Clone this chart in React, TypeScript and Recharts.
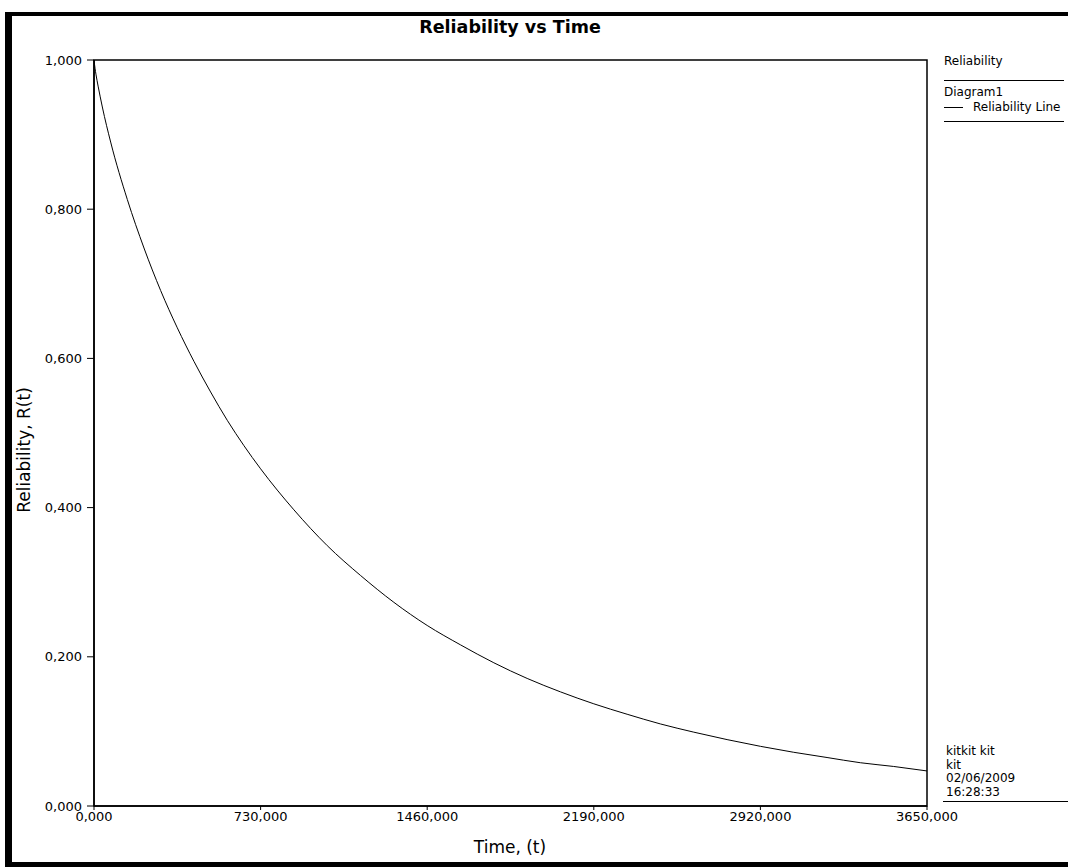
import React from "react";
import {
  LineChart,
  Line,
  XAxis,
  YAxis,
  ReferenceArea,
  Legend,
} from "recharts";

// values (time in days, reliability 0..1)
const times = [
  0, 4.5, 9, 18, 36.5, 73, 146, 219, 292, 365, 438, 511, 584, 657, 730, 876,
  1022, 1168, 1314, 1460, 1606, 1752, 1898, 2044, 2190, 2336, 2482, 2628,
  2774, 2920, 3066, 3212, 3358, 3504, 3650,
];
const reliability = [
  1.0, 0.989, 0.98, 0.965, 0.937, 0.89, 0.813, 0.748, 0.691, 0.641, 0.596,
  0.555, 0.517, 0.483, 0.452, 0.397, 0.349, 0.309, 0.273, 0.242, 0.216, 0.192,
  0.171, 0.153, 0.137, 0.123, 0.11, 0.099, 0.089, 0.08, 0.072, 0.065, 0.058,
  0.053, 0.047,
];
const xTicks = [0, 730, 1460, 2190, 2920, 3650];
const yTicks = [0, 0.2, 0.4, 0.6, 0.8, 1.0];
const footLines = ["kitkit kit", "kit", "02/06/2009", "16:28:33"];

const data = times.map((t, i) => ({ t, r: reliability[i] }));
const fmt = (v: number) => v.toFixed(3).replace(".", ",");

const FONT = "'DejaVu Sans', Verdana, sans-serif";

function LegendBox(props: any) {
  const item = props.payload && props.payload[0];
  return (
    <div style={{ position: "relative", width: 125, height: 80, font: `12px ${FONT}`, color: "#000" }}>
      <div style={{ position: "absolute", left: 0, top: 4, lineHeight: "14px" }}>Reliability</div>
      <div style={{ position: "absolute", left: 0, top: 30, width: 120, borderTop: "1.5px solid #000" }} />
      <div style={{ position: "absolute", left: 0, top: 35, lineHeight: "14px" }}>Diagram1</div>
      <div style={{ position: "absolute", left: 0, top: 50, lineHeight: "14px", whiteSpace: "nowrap" }}>
        <span style={{ display: "inline-block", width: 19, borderTop: `1px solid ${item ? item.color : "#000"}`, verticalAlign: "middle", marginRight: 10 }} />
        {item ? item.value : ""}
      </div>
      <div style={{ position: "absolute", left: 0, top: 71, width: 120, borderTop: "1.5px solid #000" }} />
    </div>
  );
}

export default function App() {
  return (
    <div style={{ position: "absolute", left: 0, top: 0, width: 1068, height: 868, background: "#fff", overflow: "hidden" }}>
      {/* scanned page frame */}
      <div
        style={{
          position: "absolute",
          left: 5,
          top: 12,
          width: 1070,
          height: 855,
          boxSizing: "border-box",
          borderLeft: "7px solid #000",
          borderTop: "4px solid #000",
          borderBottom: "5px solid #000",
        }}
      />
      <div style={{ position: "absolute", left: 0, top: 0 }}>
        <LineChart width={1068} height={868} data={data} margin={{ top: 60, right: 16, bottom: 32, left: 34 }}>
          <ReferenceArea x1={0} x2={3650} y1={0} y2={1} fill="none" stroke="#000" strokeWidth={1.5} ifOverflow="visible" />
          <XAxis
            dataKey="t"
            type="number"
            domain={[0, 3650]}
            ticks={xTicks}
            tickFormatter={fmt}
            height={30}
            tickSize={4}
            tickMargin={2}
            axisLine={{ stroke: "#000", strokeWidth: 1.5 }}
            tickLine={{ stroke: "#000" }}
            tick={{ fill: "#000", fontSize: 13, fontFamily: FONT }}
          />
          <YAxis
            type="number"
            domain={[0, 1]}
            ticks={yTicks}
            tickFormatter={fmt}
            width={60}
            tickSize={7}
            tickMargin={5}
            axisLine={{ stroke: "#000", strokeWidth: 1.5 }}
            tickLine={{ stroke: "#000" }}
            tick={{ fill: "#000", fontSize: 13, fontFamily: FONT }}
          />
          <Legend
            layout="vertical"
            align="right"
            verticalAlign="top"
            content={<LegendBox />}
            wrapperStyle={{ left: 944, top: 50, right: "auto", width: 125 }}
          />
          <Line
            type="monotone"
            dataKey="r"
            name="Reliability Line"
            stroke="#000"
            strokeWidth={1}
            dot={false}
            isAnimationActive={false}
          />
        </LineChart>
      </div>
      <div style={{ position: "absolute", left: 0, width: 1020, top: 17, textAlign: "center", font: `bold 17.5px ${FONT}`, color: "#000" }}>
        Reliability vs Time
      </div>
      <div style={{ position: "absolute", left: 410, width: 200, top: 837, textAlign: "center", font: `17px ${FONT}`, color: "#000" }}>
        Time, (t)
      </div>
      <div
        style={{
          position: "absolute",
          left: 25 - 100,
          top: 450 - 11,
          width: 200,
          height: 22,
          lineHeight: "22px",
          textAlign: "center",
          transform: "rotate(-90deg)",
          font: `17px ${FONT}`,
          color: "#000",
        }}
      >
        Reliability, R(t)
      </div>
      <div style={{ position: "absolute", left: 946, top: 745, font: `12px ${FONT}`, lineHeight: "13.5px", color: "#000" }}>
        {footLines.map((s) => (
          <div key={s}>{s}</div>
        ))}
      </div>
      <div style={{ position: "absolute", left: 943, top: 801, width: 125, borderTop: "1.5px solid #000" }} />
    </div>
  );
}
